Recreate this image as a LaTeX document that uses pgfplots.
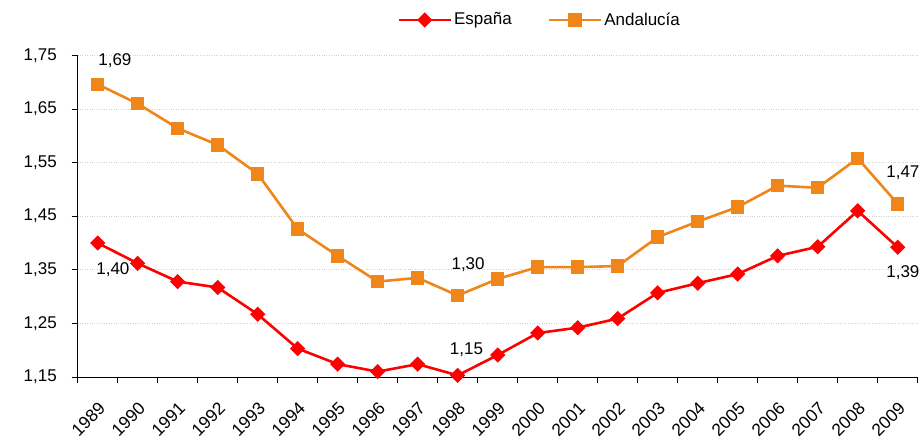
\documentclass[border=0pt]{standalone}
\usepackage{fontspec}
\setmainfont{Liberation Sans}
\usepackage{pgfplots}
\pgfplotsset{compat=1.18}
\definecolor{espred}{RGB}{255,0,0}
\definecolor{andorange}{RGB}{240,133,26}
\begin{document}
\fontsize{17bp}{20bp}\selectfont
\begin{tikzpicture}
\useasboundingbox (-77.7bp,-64bp) rectangle (843.3bp,377bp);
\begin{axis}[
  at={(0,0)}, anchor=south west,
  scale only axis, width=840bp, height=321.6bp,
  xmin=-0.5, xmax=20.5, ymin=1.15, ymax=1.75,
  axis x line*=bottom, axis y line*=left,
  axis line style={black, line width=0.9bp, -},
  xtick={0,...,20},
  xticklabels={1989,1990,1991,1992,1993,1994,1995,1996,1997,1998,1999,2000,2001,2002,2003,2004,2005,2006,2007,2008,2009},
  major x tick style={draw=none},
  minor xtick={-0.5,0.5,...,20.5},
  minor x tick style={black, line width=0.6bp},
  minor tick length=6bp,
  xticklabel style={xshift=0bp, yshift=-18bp, rotate=45, anchor=north east, inner sep=0pt, font=\fontsize{17.5bp}{20bp}\selectfont},
  ytick={1.15,1.25,1.35,1.45,1.55,1.65,1.75},
  y tick style={black, line width=0.6bp},
  major tick length=6bp,
  tick align=outside,
  yticklabel style={font=\fontsize{17bp}{20bp}\selectfont, xshift=-9bp},
  /pgf/number format/.cd, use comma, fixed, fixed zerofill, precision=2, assume math mode=true,
  /pgfplots/.cd,
  ymajorgrids,
  grid style={gray!35, dotted, line width=0.6bp},
  clip=false,
  legend columns=2,
  legend style={at={(0.55,1.11)}, anchor=center, draw=none, fill=none,
    font=\fontsize{17bp}{20bp}\selectfont,
    /tikz/every even column/.append style={column sep=34bp}},
  legend image code/.code={\draw[mark repeat=2, mark phase=2, #1] plot coordinates {(0bp,0bp) (26bp,0bp) (52bp,0bp)};},
]
\addplot[color=espred, line width=2.6bp, mark=square*, mark size=4.1bp, mark options={rotate=45, solid, fill=espred}] coordinates {
(0,1.400) (1,1.362) (2,1.328) (3,1.317) (4,1.267) (5,1.203) (6,1.174) (7,1.160) (8,1.174) (9,1.153)
(10,1.191) (11,1.232) (12,1.242) (13,1.259) (14,1.307) (15,1.325) (16,1.342) (17,1.376) (18,1.393) (19,1.460) (20,1.392)
};
\addlegendentry{España}
\addplot[color=andorange, line width=2.6bp, mark=square*, mark size=5.4bp, mark options={solid, fill=andorange}] coordinates {
(0,1.696) (1,1.660) (2,1.614) (3,1.583) (4,1.529) (5,1.426) (6,1.376) (7,1.328) (8,1.335) (9,1.302)
(10,1.333) (11,1.355) (12,1.355) (13,1.357) (14,1.411) (15,1.440) (16,1.467) (17,1.507) (18,1.503) (19,1.558) (20,1.473)
};
\addlegendentry{Andalucía}
\node at (axis cs:0.43,1.741) {1,69};
\node at (axis cs:0.38,1.350) {1,40};
\node at (axis cs:9.26,1.359) {1,30};
\node at (axis cs:9.22,1.200) {1,15};
\node at (axis cs:20.13,1.532) {1,47};
\node at (axis cs:20.13,1.344) {1,39};
\end{axis}
\end{tikzpicture}
\end{document}
